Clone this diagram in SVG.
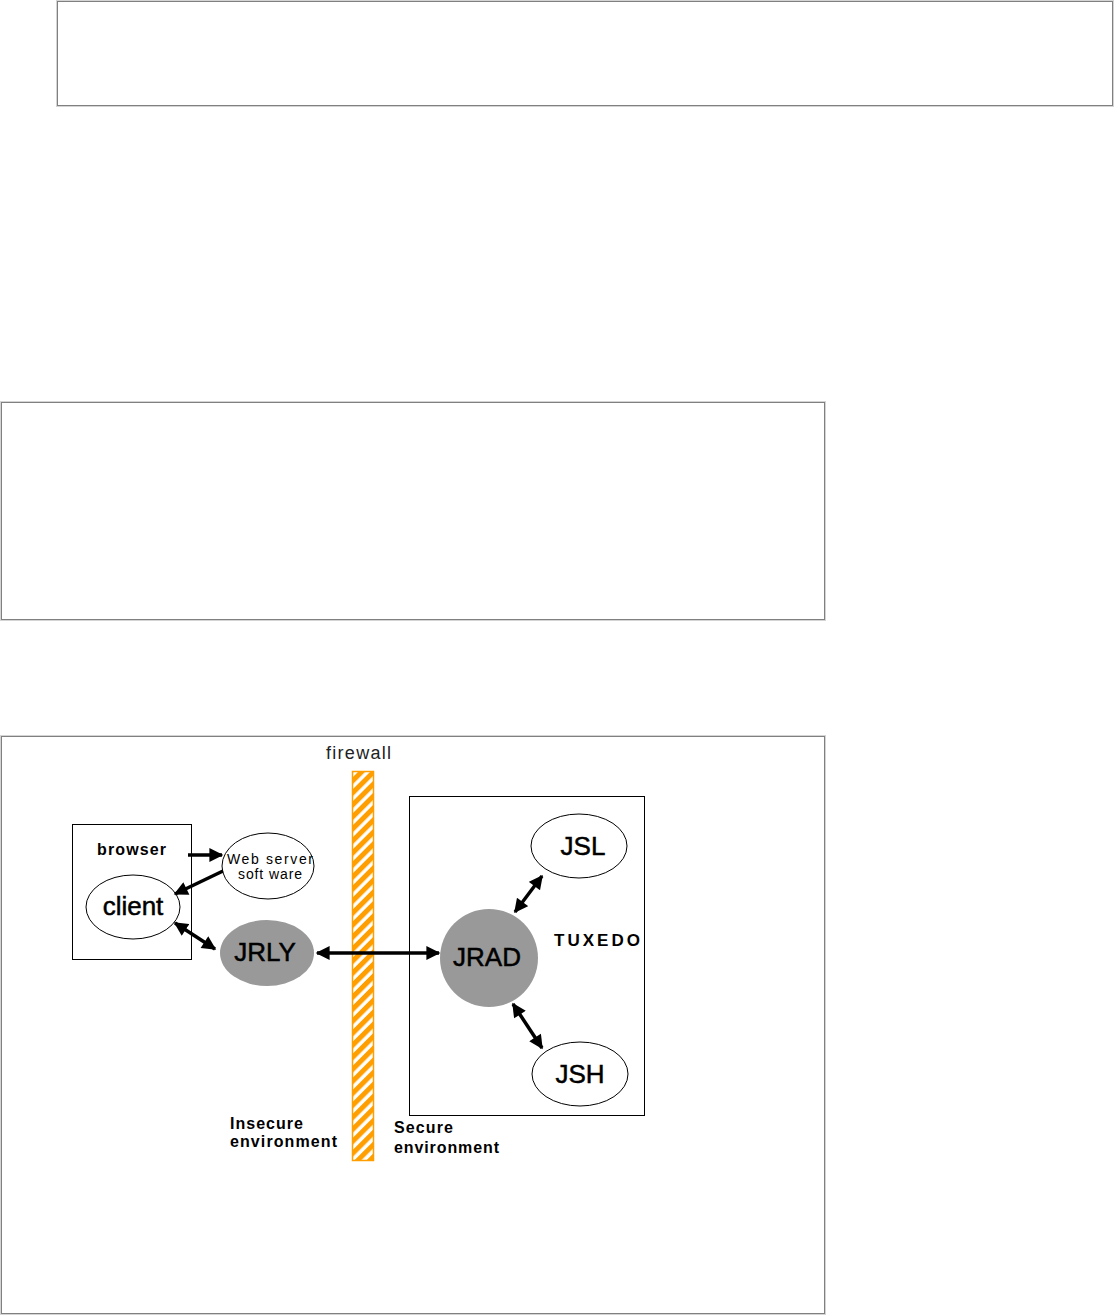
<svg xmlns="http://www.w3.org/2000/svg" width="1114" height="1315" viewBox="0 0 1114 1315">
<style>
.frameO{fill:none;stroke:#d4d4d4;stroke-width:1}
.frameI{fill:none;stroke:#808080;stroke-width:1}
.node{fill:#fff;stroke:#000;stroke-width:1}
.gray{fill:#999;stroke:none}
.big{font-family:"Liberation Sans",Arial,sans-serif;font-size:26px;fill:#000;stroke:#000;stroke-width:0.5;text-anchor:middle}
.small{font-family:"Liberation Sans",Arial,sans-serif;font-size:14px;fill:#000;text-anchor:middle}
.bold{font-family:"Liberation Sans",Arial,sans-serif;font-size:16px;font-weight:bold;fill:#000}
.conn{stroke:#000;stroke-width:3.5;fill:none}
</style>
<defs>
<marker id="ah" viewBox="0 0 10 10" refX="9" refY="5" markerWidth="4.2" markerHeight="4" orient="auto-start-reverse" markerUnits="strokeWidth">
<path d="M0,0 L10,5 L0,10 Z" fill="#000"/>
</marker>
<pattern id="stripes" patternUnits="userSpaceOnUse" width="8.5" height="8.5" patternTransform="rotate(45)">
<rect x="0" y="0" width="8.5" height="8.5" fill="#fff"/>
<rect x="0" y="0" width="5" height="8.5" fill="#ff9e00"/>
</pattern>
</defs>
<rect width="1114" height="1315" fill="#fff"/>
<g id="frames">
<rect class="frameO" x="56.5" y="0.5" width="1057" height="106"/>
<rect class="frameI" x="57.5" y="1.5" width="1055" height="104"/>
<rect class="frameO" x="0.5" y="401.5" width="825" height="219"/>
<rect class="frameI" x="1.5" y="402.5" width="823" height="217"/>
<rect class="frameO" x="0.5" y="735.5" width="825" height="579"/>
<rect class="frameI" x="1.5" y="736.5" width="823" height="577"/>
</g>
<g id="firewall">
<rect x="352.5" y="771.5" width="21" height="389" fill="url(#stripes)" stroke="#ff9e00" stroke-width="1.5"/>
<text x="326" y="759" textLength="65" lengthAdjust="spacing" style="font-family:'Liberation Sans',Arial,sans-serif;font-size:18px;fill:#222">firewall</text>
</g>
<g id="browser">
<rect x="72.5" y="824.5" width="119" height="135" fill="none" stroke="#000"/>
<text class="bold" x="97" y="855" textLength="69" lengthAdjust="spacing">browser</text>
</g>
<g id="tuxedo">
<rect x="409.5" y="796.5" width="235" height="319" fill="none" stroke="#000"/>
<text class="bold" x="554" y="946" textLength="86" lengthAdjust="spacing" style="font-size:17px">TUXEDO</text>
</g>
<g id="client">
<ellipse class="node" cx="133" cy="907" rx="47" ry="32"/>
<text class="big" x="133" y="915">client</text>
</g>
<g id="webserver">
<ellipse class="node" cx="268" cy="866" rx="46" ry="33"/>
<text class="small" x="227" y="864" textLength="86" lengthAdjust="spacing" style="text-anchor:start">Web server</text>
<text class="small" x="238" y="879" textLength="64" lengthAdjust="spacing" style="text-anchor:start">soft ware</text>
</g>
<g id="jrly">
<ellipse class="gray" cx="267" cy="953" rx="47" ry="33"/>
<text class="big" x="265" y="961">JRLY</text>
</g>
<g id="jrad">
<circle class="gray" cx="489" cy="958" r="49"/>
<text class="big" x="487" y="966">JRAD</text>
</g>
<g id="jsl">
<ellipse class="node" cx="579" cy="846" rx="48" ry="32"/>
<text class="big" x="583" y="855">JSL</text>
</g>
<g id="jsh">
<ellipse class="node" cx="580" cy="1074" rx="48" ry="32"/>
<text class="big" x="580" y="1083">JSH</text>
</g>
<g id="labels">
<text class="bold" x="230" y="1129" textLength="73" lengthAdjust="spacing">Insecure</text>
<text class="bold" x="230" y="1147" textLength="107" lengthAdjust="spacing">environment</text>
<text class="bold" x="394" y="1133" textLength="59" lengthAdjust="spacing">Secure</text>
<text class="bold" x="394" y="1153" textLength="105" lengthAdjust="spacing">environment</text>
</g>
<g id="connectors">
<line class="conn" x1="188" y1="855" x2="222" y2="855" marker-end="url(#ah)"/>
<line class="conn" x1="223" y1="871" x2="175" y2="894" marker-end="url(#ah)"/>
<line class="conn" x1="175" y1="923" x2="215" y2="949" marker-start="url(#ah)" marker-end="url(#ah)"/>
<line class="conn" x1="317" y1="953" x2="439" y2="953" marker-start="url(#ah)" marker-end="url(#ah)"/>
<line class="conn" x1="515" y1="912" x2="542" y2="876" marker-start="url(#ah)" marker-end="url(#ah)"/>
<line class="conn" x1="513" y1="1004" x2="542" y2="1048" marker-start="url(#ah)" marker-end="url(#ah)"/>
</g>
</svg>
